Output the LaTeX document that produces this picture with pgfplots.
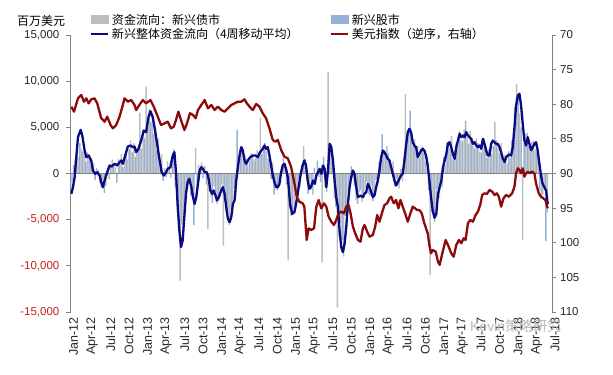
\documentclass[border=0pt]{standalone}
\usepackage{pgfplots}
\usepackage{pgfplotstable}
\pgfplotsset{compat=1.18}
\usepackage{fontspec}
\setmainfont{Liberation Sans}
\newfontfamily\cjk{Noto Sans CJK SC}
\definecolor{bondgray}{RGB}{190,190,190}
\definecolor{eqblue}{RGB}{150,178,215}
\definecolor{navyline}{RGB}{10,10,130}
\definecolor{redline}{RGB}{140,10,10}
\definecolor{negred}{RGB}{200,30,30}
\definecolor{axgray}{RGB}{128,128,128}

\pgfplotstableread{
m v
0.0 -1800
0.5 900
1.0 2200
1.5 3300
2.0 2400
2.5 1300
3.0 1700
3.5 500
4.0 -700
4.5 400
5.0 -1500
5.5 -2100
6.0 400
6.5 800
7.0 1100
7.5 -1000
8.0 1400
8.5 700
9.0 2200
9.5 2600
10.0 2300
10.5 1800
11.0 2900
11.5 2700
12.0 3800
12.5 5000
13.0 5600
13.5 4300
14.0 2500
14.5 900
15.0 -800
15.5 -400
16.0 700
16.5 1500
17.0 -1500
17.5 -6000
18.0 -5500
18.5 -3000
19.0 -1200
19.5 -2400
20.0 -5600
20.5 -1500
21.0 600
21.5 -500
22.0 -1200
22.5 -1800
23.0 -3200
23.5 -2000
24.0 -2900
24.5 -1200
25.0 -3000
25.5 -4300
26.0 -3800
26.5 -1600
27.0 4700
27.5 2600
28.0 1400
28.5 1600
29.0 1300
29.5 2000
30.0 1700
30.5 2300
31.0 2100
31.5 3300
32.0 1600
32.5 -600
33.0 -2300
33.5 -1800
34.0 -300
34.5 1700
35.0 -1200
35.5 -3800
36.0 -4500
36.5 -2400
37.0 -600
37.5 900
38.0 1600
38.5 -2200
39.0 -800
39.5 600
40.0 1400
40.5 -900
41.0 1800
41.5 -2000
42.0 3300
42.5 900
43.0 -3600
43.5 -6800
44.0 -7200
44.5 -4600
45.0 -2000
45.5 800
46.0 -1300
46.5 -3300
47.0 -1800
47.5 -2600
48.0 -900
48.5 -2400
49.0 -3000
49.5 -700
50.0 1200
50.5 4300
51.0 1800
51.5 2200
52.0 300
52.5 -1400
53.0 -700
53.5 500
54.0 1600
54.5 3800
55.0 6800
55.5 2900
56.0 2400
56.5 1700
57.0 2900
57.5 1300
58.0 -1800
58.5 -4200
59.0 -5200
59.5 -1700
60.0 -400
60.5 1800
61.0 3400
61.5 2800
62.0 1500
62.5 3300
63.0 4600
63.5 3500
64.0 5700
64.5 3200
65.0 3900
65.5 2700
66.0 3300
66.5 2300
67.0 3800
67.5 1700
68.0 2900
68.5 3000
69.0 3600
69.5 2200
70.0 1200
70.5 1800
71.0 2400
71.5 3600
72.0 7200
72.5 8200
73.0 5000
73.5 3300
74.0 4400
74.5 2300
75.0 3500
75.5 2400
76.0 -1800
76.5 -2300
77.0 -7300
}\eqtable

\pgfplotstableread{
m v
0.25 -900
0.75 1500
1.25 1800
1.75 2600
2.25 2100
2.75 2300
3.25 900
3.75 1100
4.25 600
4.75 -1000
5.25 -700
5.75 -1300
6.25 -600
6.75 1500
7.25 700
7.75 1600
8.25 2100
8.75 1800
9.25 1500
9.75 3600
10.25 3300
10.75 2700
11.25 6600
11.75 4400
12.25 9400
12.75 7000
13.25 6200
13.75 4800
14.25 3800
14.75 2100
15.25 600
15.75 1300
16.25 -500
16.75 2600
17.25 -2800
17.75 -11600
18.25 -6800
18.75 -2200
19.25 -600
19.75 -1800
20.25 2800
20.75 900
21.25 1200
21.75 800
22.25 -6000
22.75 -2500
23.25 -1400
23.75 -3300
24.25 -1800
24.75 -7800
25.25 -4200
25.75 -5600
26.25 -4400
26.75 -2600
27.25 1000
27.75 3000
28.25 2000
28.75 900
29.25 2200
29.75 1400
30.25 2500
30.75 6000
31.25 3000
31.75 2400
32.25 2000
32.75 1200
33.25 -1400
33.75 -900
34.25 600
34.75 700
35.25 -9400
35.75 -4600
36.25 -3500
36.75 -2900
37.25 -1400
37.75 3000
38.25 500
38.75 -1500
39.25 -2300
39.75 -1200
40.25 -400
40.75 -9600
41.25 -1500
41.75 11000
42.25 2200
42.75 -2700
43.25 -14500
43.75 -5400
44.25 -9000
44.75 -3800
45.25 -1600
45.75 -500
46.25 -2900
46.75 -2000
47.25 -3100
47.75 -1600
48.25 -2200
48.75 -1300
49.25 -1900
49.75 -1200
50.25 700
50.75 2500
51.25 3000
51.75 900
52.25 1300
52.75 -600
53.25 -1600
53.75 -800
54.25 8600
54.75 4500
55.25 4200
55.75 3700
56.25 3000
56.75 2600
57.25 2200
57.75 1800
58.25 -11000
58.75 -3600
59.25 -4000
59.75 -2600
60.25 -1500
60.75 900
61.25 2600
61.75 4100
62.25 2500
62.75 4000
63.25 3600
63.75 4800
64.25 3900
64.75 4600
65.25 3000
65.75 3800
66.25 2400
66.75 3200
67.25 2900
67.75 2600
68.25 2100
68.75 5600
69.25 2800
69.75 3300
70.25 2000
70.75 1100
71.25 1700
71.75 4500
72.25 9700
72.75 6500
73.25 -7200
73.75 4300
74.25 3000
74.75 3400
75.25 2600
75.75 1800
76.25 -2600
76.75 -1800
77.25 -4200
}\bdtable

\pgfplotstableread{
m v
0.13 -2200
0.40 -1480
0.67 -400
0.94 1770
1.21 3930
1.64 4730
1.91 4120
2.29 2490
2.56 1770
2.94 1950
3.36 1410
3.63 325
4.01 -36
4.33 140
4.71 -217
4.98 -940
5.25 -1480
5.52 -760
5.95 140
6.33 870
6.70 760
7.14 1050
7.57 870
7.94 1230
8.21 1410
8.48 1050
8.86 1950
9.29 2920
9.72 3030
10.10 2850
10.37 2920
10.64 2310
11.01 2670
11.44 3570
11.87 4660
12.25 4480
12.63 6100
12.95 6750
13.33 6100
13.70 4660
14.03 3210
14.40 1590
14.78 140
15.11 -217
15.48 140
15.75 505
16.18 685
16.56 1950
16.83 2310
17.09 140
17.37 -3650
17.64 -6170
17.90 -7980
18.17 -7260
18.44 -4730
18.71 -2200
18.98 -940
19.25 -580
19.58 -1480
19.84 -2560
20.11 -3290
20.38 -2560
20.65 -1120
20.92 325
21.19 685
21.46 505
21.73 140
22.10 140
22.43 -760
22.65 -1840
22.97 -2200
23.18 -1840
23.50 -2380
23.72 -2920
24.04 -2560
24.42 -1840
24.69 -1480
24.96 -2200
25.23 -3650
25.50 -4910
25.77 -5270
26.04 -4730
26.31 -3290
26.58 -2920
26.85 -760
27.11 685
27.38 1950
27.65 2850
27.92 2490
28.19 1410
28.46 1050
28.73 1410
29.11 1770
29.54 1950
29.97 1950
30.34 1770
30.72 2310
31.15 2670
31.42 3030
31.69 2670
31.96 2850
32.23 1950
32.50 870
32.77 -217
33.04 -940
33.31 -1480
33.58 -1480
33.85 -1120
34.12 140
34.38 870
34.65 1050
34.92 505
35.19 -400
35.35 -1480
35.57 -3290
35.90 -4370
36.27 -4190
36.54 -3290
36.80 -2200
37.08 -940
37.35 140
37.61 870
37.88 1410
38.16 870
38.42 -760
38.69 -1660
38.96 -1480
39.28 -760
39.55 -1120
39.82 -217
40.09 140
40.36 505
40.63 -36
40.90 870
41.17 505
41.44 -1480
41.71 325
41.98 3210
42.25 2850
42.52 1410
42.78 -760
43.05 -2560
43.32 -3650
43.59 -6170
43.86 -7980
44.13 -8520
44.40 -7620
44.67 -5810
44.94 -3290
45.21 -1480
45.48 -400
45.75 325
46.01 -36
46.28 -1480
46.56 -2560
46.98 -2380
47.36 -2560
47.63 -2200
47.90 -2020
48.17 -1120
48.44 -1480
48.71 -2020
48.98 -2560
49.24 -2380
49.52 -1480
49.79 -760
50.05 325
50.32 1770
50.60 2490
50.86 2310
51.13 1950
51.40 1590
51.67 1410
51.94 685
52.21 -36
52.48 -760
52.75 -1300
53.02 -940
53.28 -580
53.55 -217
53.82 -36
54.09 1410
54.36 3030
54.64 4480
54.90 4840
55.17 4480
55.44 3390
55.70 3030
55.98 2850
56.25 1770
56.51 2130
56.79 2490
57.06 2670
57.32 2490
57.59 1950
57.87 870
58.13 -760
58.40 -2560
58.68 -4010
58.97 -4800
59.26 -4370
59.53 -2200
59.80 -1480
60.07 -760
60.34 685
60.61 1410
60.88 2130
61.15 3210
61.42 3390
61.68 2850
61.95 2130
62.23 1590
62.49 2850
62.76 3570
63.04 4300
63.30 3930
63.57 4120
63.84 3930
64.10 4480
64.38 4120
64.65 3930
64.91 3750
65.19 3210
65.46 3390
65.72 3030
66.00 2850
66.27 3030
66.53 2670
66.80 3750
67.07 3210
67.34 2490
67.61 1950
67.88 1950
68.14 3210
68.42 3570
68.69 3390
68.95 3210
69.22 3210
69.50 2850
69.76 2310
70.03 1590
70.31 1230
70.57 1770
70.84 1950
71.11 2060
71.37 1950
71.65 2850
71.92 5020
72.18 7360
72.46 8450
72.73 8630
72.99 7360
73.26 5380
73.53 3570
73.80 3030
74.07 3930
74.34 3210
74.61 2490
74.88 2850
75.15 3210
75.41 3390
75.68 2490
75.96 1050
76.22 -217
76.49 -1120
76.77 -1480
77.04 -1840
77.30 -3290
}\matable

\pgfplotstableread{
m d
0.13 80.35
0.57 81.07
1.21 79.15
1.75 78.66
2.18 79.63
2.56 79.15
2.94 79.87
3.36 79.29
3.90 79.15
4.33 79.87
4.98 82.03
5.52 82.52
5.95 81.80
6.49 83.00
6.87 83.48
7.40 83.00
7.94 81.80
8.48 80.10
8.75 79.15
9.29 79.63
9.83 79.39
10.37 80.10
10.64 80.83
11.17 80.10
11.71 79.39
12.25 79.87
12.95 79.39
13.49 80.35
14.14 81.80
14.67 83.00
15.22 82.76
15.75 82.52
16.29 83.48
16.72 83.24
17.09 82.27
17.48 81.07
17.90 82.27
18.45 83.72
18.87 82.76
19.35 81.30
19.84 81.55
20.27 82.03
20.65 80.83
21.19 80.10
21.73 79.39
22.27 80.59
22.81 80.10
23.34 80.83
23.88 80.35
24.42 80.83
24.96 81.07
25.50 80.59
26.04 80.10
26.58 79.87
27.11 79.63
27.65 79.63
28.19 79.29
28.57 79.87
29.00 80.35
29.54 80.83
30.08 79.96
30.61 80.35
31.15 81.31
31.69 82.03
32.23 83.48
32.77 85.16
33.20 85.40
33.58 85.16
34.12 86.60
34.65 87.57
35.19 87.80
35.73 89.01
36.27 91.42
36.65 93.35
37.08 94.07
37.61 94.31
37.88 94.79
38.26 99.60
38.58 97.92
38.96 98.16
39.45 97.92
39.82 94.79
40.20 93.83
40.63 95.03
41.06 94.31
41.44 94.79
41.81 96.23
42.25 96.96
42.68 97.44
43.05 96.71
43.43 95.75
43.86 95.51
44.29 95.75
44.67 94.79
45.04 94.55
45.37 95.75
45.75 97.68
46.12 98.64
46.56 99.60
46.98 99.85
47.36 97.92
47.63 97.44
48.06 98.40
48.44 99.12
48.98 98.88
49.35 97.68
49.68 95.99
50.05 96.96
50.44 95.75
50.86 94.55
51.29 94.31
51.67 93.59
51.94 93.35
52.37 94.31
52.75 93.83
53.12 95.03
53.45 93.83
53.82 94.79
54.20 95.75
54.64 96.96
55.06 95.75
55.44 94.79
55.82 95.03
56.14 95.27
56.52 95.27
56.90 95.75
57.32 97.20
57.59 97.92
57.87 98.64
58.13 100.33
58.40 101.52
58.68 101.05
59.16 101.29
59.53 102.73
59.80 103.21
60.23 101.52
60.77 99.60
61.15 100.33
61.68 101.52
62.07 102.01
62.49 100.33
62.92 99.60
63.30 100.08
63.68 99.36
64.00 99.60
64.38 97.20
64.75 96.71
65.19 96.96
65.62 95.99
66.00 95.51
66.37 94.55
66.69 93.10
67.07 92.86
67.45 92.96
67.88 92.38
68.31 92.62
68.69 93.10
69.06 92.86
69.39 93.35
69.76 94.79
70.14 93.59
70.57 93.10
71.00 93.35
71.54 92.86
71.92 91.90
72.18 89.97
72.46 89.25
72.73 89.49
72.99 89.97
73.26 89.25
73.53 90.45
73.80 89.97
74.07 89.73
74.44 89.97
74.77 89.73
75.15 89.97
75.41 91.42
75.85 92.86
76.22 93.35
76.60 93.59
76.93 93.83
77.30 95.03
}\dxytable

\begin{document}
\begin{tikzpicture}
\begin{axis}[name=main,
  scale only axis, width=481.5bp, height=277bp,
  xmin=0, xmax=78, ymin=-15000, ymax=15000,
  scaled y ticks=false,
  axis x line*=bottom, axis y line*=left,
  x axis line style={draw=none},
  y axis line style={draw=axgray, line width=0.8bp},
  tick align=outside, major tick length=4bp,
  xtick={0,3,...,78},
  xticklabels={Jan-12,Apr-12,Jul-12,Oct-12,Jan-13,Apr-13,Jul-13,Oct-13,Jan-14,Apr-14,Jul-14,Oct-14,Jan-15,Apr-15,Jul-15,Oct-15,Jan-16,Apr-16,Jul-16,Oct-16,Jan-17,Apr-17,Jul-17,Oct-17,Jan-18,Apr-18,Jul-18},
  xtick style={draw=none},
  xticklabel style={rotate=90, anchor=east, font=\fontsize{12.5bp}{14bp}\selectfont, text=black!85, inner sep=1bp, yshift=-3bp},
  ytick={-15000,-10000,-5000,0,5000,10000,15000},
  yticklabels={{\textcolor{negred}{-15,000}},{\textcolor{negred}{-10,000}},{\textcolor{negred}{-5,000}},0,{5,000},{10,000},{15,000}},
  ytick style={draw=axgray, line width=0.8bp},
  yticklabel style={font=\fontsize{11.5bp}{13bp}\selectfont, text=black!85, inner sep=1bp, xshift=-6bp},
  clip=true,
]
\addplot[ybar, bar width=1.5bp, bar shift=0pt, fill=eqblue, draw=none] table[x=m,y=v]{\eqtable};
\addplot[ybar, bar width=1.5bp, bar shift=0pt, fill=bondgray, draw=none] table[x=m,y=v]{\bdtable};
\addplot[axgray, line width=0.9bp] coordinates {(0,0) (78,0)};
\addplot[navyline, line width=2.3bp, line join=round] table[x=m,y=v]{\matable};
\end{axis}
\begin{axis}[
  scale only axis, width=481.5bp, height=277bp,
  xmin=0, xmax=78, ymin=70, ymax=110, y dir=reverse,
  hide x axis, axis y line*=right,
  y axis line style={draw=axgray, line width=0.8bp},
  tick align=outside, major tick length=4bp,
  ytick={70,75,...,110},
  yticklabels={70,75,80,85,90,95,100,105,110},
  ytick style={draw=axgray, line width=0.8bp},
  yticklabel style={font=\fontsize{11.5bp}{13bp}\selectfont, text=black!85, inner sep=1bp, xshift=3bp},
  legend columns=2,
  legend cell align=left,
  legend style={at={(0.0405,1.079)}, anchor=north west, draw=none, fill=none,
    inner sep=0pt, row sep=1.5bp,
    font=\cjk\fontsize{12bp}{14bp}\selectfont,
    nodes={inner sep=0.5bp},
    /tikz/every odd column/.append style={column sep=2bp},
    /tikz/every even column/.append style={column sep=31bp}},
]
\addlegendimage{legend image code/.code={\fill[bondgray] (0bp,-4bp) rectangle (17bp,4bp);}}
\addlegendentry{资金流向：新兴债市}
\addlegendimage{legend image code/.code={\fill[eqblue] (0bp,-4bp) rectangle (17bp,4bp);}}
\addlegendentry{新兴股市}
\addlegendimage{legend image code/.code={\draw[navyline, line width=2.3bp] (0bp,0bp) -- (17bp,0bp);}}
\addlegendentry{新兴整体资金流向（4周移动平均）}
\addplot[redline, line width=2.3bp, line join=round, legend image code/.code={\draw[redline, line width=2.3bp] (0bp,0bp) -- (17bp,0bp);}] table[x=m,y=d]{\dxytable};
\addlegendentry{美元指数（逆序，右轴）}
\end{axis}
\node[anchor=west, inner sep=0pt, font=\cjk\fontsize{12bp}{14bp}\selectfont] at ([shift={(-53.5bp,14.3bp)}]main.north west) {百万美元};
\node[anchor=west, inner sep=0pt, text=black!28, font=\fontsize{14bp}{16bp}\selectfont] at ([shift={(-82bp,-14bp)}]main.south east) {Kevin{\cjk 策略研究}};
\pgfresetboundingbox
\path[use as bounding box] ([shift={(-70.5bp,-62bp)}]main.south west) rectangle ([shift={(61bp,35bp)}]main.north east);
\end{tikzpicture}
\end{document}
